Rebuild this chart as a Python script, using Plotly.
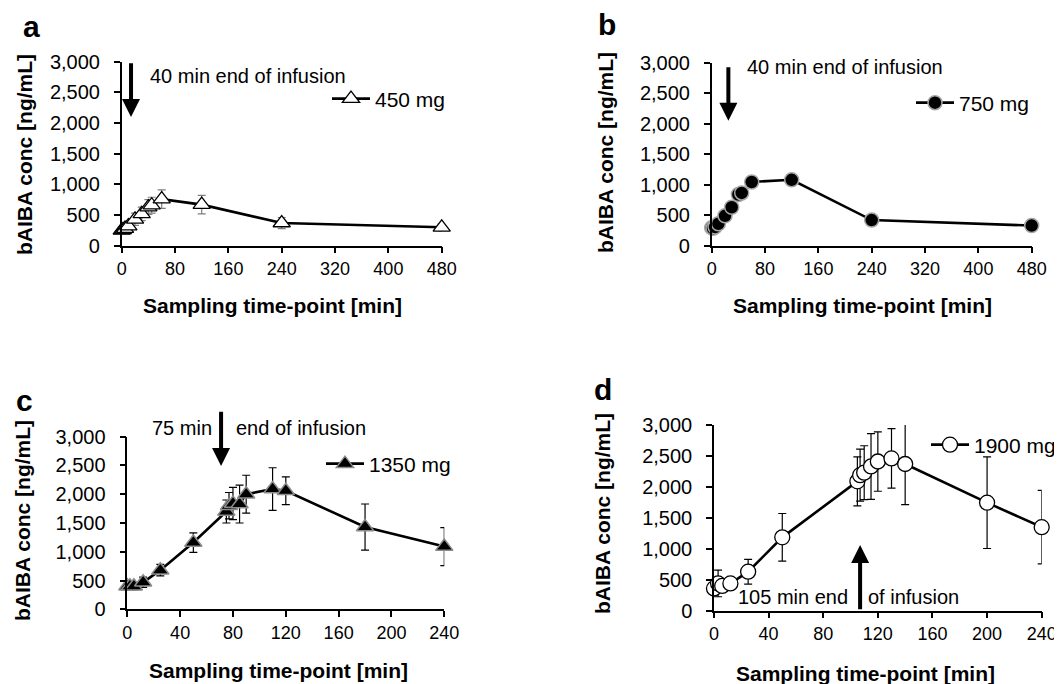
import plotly.graph_objects as go

# ---------------- data ----------------
t_a = [0, 2, 5, 10, 20, 30, 40, 45, 60, 120, 240, 480]
c_a = [250, 260, 280, 320, 430, 520, 630, 660, 760, 670, 370, 300]
e_a = [50, 50, 60, 80, 100, 110, 120, 130, 150, 150, 90, 60]

t_b = [0, 2, 5, 10, 20, 30, 40, 45, 60, 120, 240, 480]
c_b = [295, 285, 305, 360, 490, 630, 840, 865, 1045, 1080, 420, 330]

t_c = [0, 2, 5, 12, 25, 50, 75, 77, 80, 85, 90, 110, 120, 180, 240]
c_c = [400, 400, 400, 470, 680, 1160, 1700, 1800, 1840, 1830, 2000, 2090, 2060, 1430, 1090]
e_c = [40, 40, 50, 90, 100, 170, 200, 230, 280, 330, 330, 370, 240, 400, 330]

t_d = [0, 3, 6, 12, 25, 50, 105, 107, 110, 115, 120, 130, 140, 200, 240]
c_d = [360, 440, 400, 440, 630, 1185, 2090, 2190, 2230, 2330, 2410, 2460, 2370, 1745, 1350]
e_d = [60, 215, 60, 60, 200, 385, 395, 420, 435, 530, 480, 480, 655, 740, 595]

doses = ["450 mg", "750 mg", "1350 mg", "1900 mg"]
panel_letters = ["a", "b", "c", "d"]
y_ticks = [0, 500, 1000, 1500, 2000, 2500, 3000]
x_ticks_long = [0, 80, 160, 240, 320, 400, 480]
x_ticks_short = [0, 40, 80, 120, 160, 200, 240]

# page body has an 8px margin; size the figure so it fits the window exactly
OFF = 8
W, H = 1062 - OFF, 684 - OFF
FONT = "Liberation Sans, Arial, sans-serif"

def px(x):
    return (x - OFF) / W

def py(y):
    return 1 - (y - OFF) / H

fig = go.Figure()

# plot areas in window pixels: (left, right, top, bottom)
areas = {
    "a": (121.7, 441.7, 61.7, 245.7),
    "b": (711.7, 1031.7, 62.7, 245.7),
    "c": (127.3, 444.3, 436.7, 609.3),
    "d": (714.0, 1041.7, 425.0, 610.7),
}

axis_ids = {"a": ("x", "y"), "b": ("x2", "y2"), "c": ("x3", "y3"), "d": ("x4", "y4")}

def add_series(key, t, c, err, marker, errcolor, legend_name, legend_id):
    xa, ya = axis_ids[key]
    tr = dict(
        x=t, y=c, mode="lines+markers", name=legend_name,
        xaxis=xa, yaxis=ya, cliponaxis=False,
        line=dict(color="black", width=2.6),
        marker=marker, legend=legend_id,
    )
    if err is not None:
        tr["error_y"] = dict(type="data", array=err, visible=True,
                             color=errcolor, thickness=1.2, width=4)
    fig.add_trace(go.Scatter(**tr))

add_series("a", t_a, c_a, e_a,
           dict(symbol="triangle-up", size=15, color="white",
                line=dict(color="black", width=1.3)), "#7f7f7f", doses[0], "legend")
add_series("b", t_b, c_b, None,
           dict(symbol="circle", size=14, color="black",
                line=dict(color="#a6a6a6", width=1.5)), "black", doses[1], "legend2")
add_series("c", t_c, c_c, e_c,
           dict(symbol="triangle-up", size=15, color="black",
                line=dict(color="#8c8c8c", width=1.5)), "black", doses[2], "legend3")
add_series("d", t_d, c_d, e_d,
           dict(symbol="circle", size=15, color="white",
                line=dict(color="black", width=1.3)), "black", doses[3], "legend4")

layout = dict(
    width=W, height=H, margin=dict(l=0, r=0, t=0, b=0, autoexpand=False),
    paper_bgcolor="white", plot_bgcolor="white",
    font=dict(family=FONT, size=18, color="black"),
    showlegend=True,
)

for i, key in enumerate(["a", "b", "c", "d"]):
    l, r, t, b = areas[key]
    suffix = "" if i == 0 else str(i + 1)
    long = key in ("a", "b")
    layout["xaxis" + suffix] = dict(
        domain=[px(l), px(r)], anchor="y" + suffix,
        range=[0, 480 if long else 240],
        tickvals=x_ticks_long if long else x_ticks_short,
        showline=True, linecolor="black", linewidth=1.5,
        ticks="outside", ticklen=6, tickwidth=1.5, tickcolor="black",
        showgrid=False, zeroline=False, automargin=False,
        tickfont=dict(family=FONT, size=18),
    )
    layout["yaxis" + suffix] = dict(
        domain=[py(b), py(t)], anchor="x" + suffix,
        range=[0, 3000], tickvals=y_ticks, tickformat=",",
        showline=True, linecolor="black", linewidth=1.5,
        ticks="outside", ticklen=6, tickwidth=1.5, tickcolor="black",
        showgrid=False, zeroline=False, automargin=False,
        ticklabelstandoff=10,
        tickfont=dict(family=FONT, size=20),
    )

# legends (legend box left x, y centre in window px)
leg_pos = {"legend": (327, 99), "legend2": (911, 103), "legend3": (321, 464), "legend4": (926, 445)}
for lid, (lx, ly) in leg_pos.items():
    layout[lid] = dict(
        x=px(lx), y=py(ly), xanchor="left", yanchor="middle",
        bgcolor="rgba(0,0,0,0)", borderwidth=0,
        font=dict(family=FONT, size=21, color="black"),
        itemwidth=38, tracegroupgap=0,
    )

fig.update_layout(**layout)

ann = []
# panel letters
letter_pos = {"a": (31, 27), "b": (607, 24), "c": (24, 400), "d": (603, 389)}
for k in panel_letters:
    x0, y0 = letter_pos[k]
    ann.append(dict(x=px(x0), y=py(y0), xref="paper", yref="paper", text="<b>%s</b>" % k,
                    showarrow=False, font=dict(family=FONT, size=30), xanchor="center", yanchor="middle"))

# axis titles
xtitle_pos = {"a": (272, 305), "b": (862, 306), "c": (278, 670), "d": (865, 673)}
ytitle_pos = {"a": (25, 155), "b": (605, 153), "c": (22, 521), "d": (602, 514)}
for k in panel_letters:
    x0, y0 = xtitle_pos[k]
    ann.append(dict(x=px(x0), y=py(y0), xref="paper", yref="paper",
                    text="<b>Sampling time-point [min]</b>", showarrow=False,
                    font=dict(family=FONT, size=21), xanchor="center", yanchor="middle"))
    x0, y0 = ytitle_pos[k]
    ann.append(dict(x=px(x0), y=py(y0), xref="paper", yref="paper",
                    text="<b>bAIBA conc [ng/mL]</b>", showarrow=False, textangle=-90,
                    font=dict(family=FONT, size=21), xanchor="center", yanchor="middle"))

# infusion texts
texts = [
    ("40 min end of infusion", 148, 76),
    ("40 min end of infusion", 745, 67),
    ("75 min", 150, 428),
    ("end of infusion", 234, 428),
    ("105 min end", 736, 597),
    ("of infusion", 866, 597),
]
for s, x0, y0 in texts:
    ann.append(dict(x=px(x0), y=py(y0), xref="paper", yref="paper", text=s,
                    showarrow=False, font=dict(family=FONT, size=20),
                    xanchor="left", yanchor="middle"))

# arrows: (xref, yref, x_tip, y_tip, y_tail)
arrows = [
    ("x", "y", 14, 2100, 3000),
    ("x2", "y2", 25, 2050, 2950),
    ("x3", "y3", 71, 2490, 3460),
    ("x4", "y4", 107, 1060, 0),
]
for xr, yr, xt, yt, ytail in arrows:
    ann.append(dict(x=xt, y=yt, xref=xr, yref=yr, ax=xt, ay=ytail, axref=xr, ayref=yr,
                    text="", showarrow=True, arrowhead=2, arrowsize=0.9, arrowwidth=4,
                    arrowcolor="black"))

fig.update_layout(annotations=ann)
fig.write_html("out.html")
